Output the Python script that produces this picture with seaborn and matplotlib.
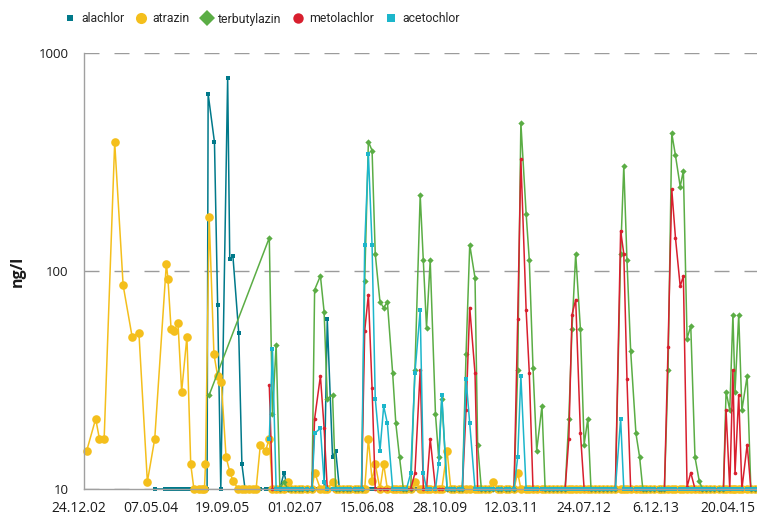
import matplotlib

matplotlib.use("Agg")

import matplotlib.pyplot as plt
import matplotlib.transforms as mtransforms
import numpy as np
import pandas as pd
import seaborn as sns
from matplotlib.lines import Line2D
from matplotlib.ticker import FixedLocator, NullLocator

nan = np.nan

# sampling times as decimal years, values in ng/l (10 = detection limit)
early_atrazin_t = [2003.03, 2003.20, 2003.27, 2003.36, 2003.56, 2003.72, 2003.89, 2004.02,
                   2004.18, 2004.32, 2004.54, 2004.57, 2004.63, 2004.69, 2004.76, 2004.83,
                   2004.93, 2005.00, 2005.06, 2005.15, 2005.22, 2005.26, 2005.28, 2005.35,
                   2005.44, 2005.51, 2005.58, 2005.67, 2005.74, 2005.80, 2005.90, 2005.97]
early_atrazin_v = [15, 21, 17, 17, 390, 86, 50, 52,
                   10.8, 17, 108, 92, 54, 53, 58, 28,
                   50, 13, 10, 10, 10, 10, 13, 176,
                   41.5, 33, 31, 14, 12, 10.9, 10, 10]

early_alachlor_t = [2004.32, 2004.51, 2004.56, 2004.61, 2004.65, 2004.70, 2004.75, 2004.80,
                    2004.84, 2004.89, 2004.94, 2004.98, 2005.03, 2005.08, 2005.13, 2005.17,
                    2005.22, 2005.27, 2005.31, 2005.33, 2005.45, 2005.51, 2005.57, 2005.70,
                    2005.74, 2005.80, 2005.91, 2005.97]
early_alachlor_v = [10, 10, 10, 10, 10, 10, 10, 10,
                    10, 10, 10, 10, 10, 10, 10, 10,
                    10, 10, 10, 650, 390, 70, 10, 770,
                    113, 117, 52, 13]

early_terbutylazin_t = [2005.35]
early_terbutylazin_v = [27]

# common sampling from 2006 on
sample_t = [
    2006.03, 2006.10, 2006.18, 2006.24, 2006.32, 2006.42, 2006.49, 2006.55, 2006.62, 2006.69, 2006.77, 2006.84, 2006.91,
    2006.97, 2007.05, 2007.12, 2007.20,
    2007.30, 2007.35, 2007.46, 2007.53, 2007.59, 2007.69, 2007.75, 2007.82,
    2007.88, 2007.96, 2008.03, 2008.11, 2008.18, 2008.24,
    2008.30, 2008.37, 2008.44, 2008.50, 2008.59, 2008.66, 2008.73, 2008.83, 2008.89, 2008.96, 2009.03,
    2009.09,
    2009.17, 2009.25, 2009.35, 2009.41, 2009.47, 2009.54, 2009.64, 2009.70, 2009.76, 2009.86, 2009.93,
    2010.00, 2010.08,
    2010.15, 2010.22, 2010.29, 2010.39, 2010.44, 2010.51,
    2010.58, 2010.66, 2010.74, 2010.82, 2010.89, 2010.97, 2011.04,
    2011.13, 2011.20, 2011.26, 2011.36, 2011.42, 2011.49, 2011.56, 2011.66, 2011.72,
    2011.79, 2011.87, 2011.94, 2012.02,
    2012.10, 2012.17, 2012.23, 2012.30, 2012.39, 2012.46, 2012.53, 2012.59,
    2012.66, 2012.74, 2012.81, 2012.89, 2012.97,
    2013.05, 2013.15, 2013.21, 2013.27, 2013.34, 2013.44, 2013.51, 2013.57,
    2013.64, 2013.71, 2013.79, 2013.87, 2013.92,
    2013.98, 2014.05, 2014.12, 2014.19, 2014.28, 2014.34, 2014.41, 2014.48, 2014.56, 2014.64, 2014.70,
    2014.77, 2014.85, 2014.93, 2015.01,
    2015.10, 2015.15, 2015.22, 2015.28, 2015.32, 2015.39, 2015.45, 2015.55, 2015.62, 2015.69,
]

alachlor_v = [
    10, 10, 10, 10, 10, 10, 10, 10, 10, 10, 11.9, 10, 10,
    10, 10, 10, 10,
    10, 10, 10, 10, 60, 14, 15, 10,
    10, 10, 10, 10, 10, 10,
    10, 10, 10, 10, 10, 10, 10, 10, 10, 10, 10,
    10,
    10, 10, 10, 10, 10, 10, 10, 10, 10, 10, 10,
    10, 10,
    10, 10, 10, 10, 10, 10,
    10, 10, 10, 10, 10, 10, 10,
    10, 10, 10, 10, 10, 10, 10, 10, 10,
    10, 10, 10, 10,
    10, 10, 10, 10, 10, 10, 10, 10,
    10, 10, 10, 10, 10,
    10, 10, 10, 10, 10, 10, 10, 10,
    10, 10, 10, 10, 10,
    10, 10, 10, 10, 10, 10, 10, 10, 10, 10, 10,
    10, 10, 10, 10,
    10, 10, 10, 10, 10, 10, 10, 10, 10, 10,
]

atrazin_v = [
    10, 10, 10, 10, 15.9, 15, 17, 10, 10, 10, 10, 10.8, 10,
    10, 10, 10, 10,
    10, 11.9, 10, 10, 10, 10.8, 10, 10,
    10, 10, 10, 10, 10, 10,
    10, 17, 10.9, 13, 10, 13, 10, 10, 10, 10, 10,
    10,
    10, 10.8, 10, 10, 10, 10, 10, 10, 10, 15, 10,
    10, 10,
    10, 10, 10, 10, 10, 10,
    10, 10, 10.8, 10, 10, 10, 10,
    10, 11.9, 10, 10, 10, 10, 10, 10, 10,
    10, 10, 10, 10,
    10, 10, 10, 10, 10, 10, 10, 10,
    10, 10, 10, 10, 10,
    10, 10, 10, 10, 10, 10, 10, 10,
    10, 10, 10, 10, 10,
    10, 10, 10, 10, 10, 10, 10, 10, 10, 10, 10,
    10, 10, 10, 10,
    10, 10, 10, 10, 10, 10, 10, 10, 10, 10,
]

terbutylazin_v = [
    nan, nan, nan, nan, nan, nan, 142, 22, 46, 10, 10.8, 10, 10,
    10, 10, 10, 10,
    10, 82, 95, 65, 26, 27, 10, 10,
    10, 10, 10, 10, 10, 10,
    90, 392, 357, 120, 72, 68, 72, 34, 20, 14, 10,
    10,
    10, 35, 223, 112, 55, 112, 22, 14, 26, 10, 10,
    10, 10,
    10, 41.5, 132, 93, 16, 10,
    10, 10, 10, 10, 10, 10, 10,
    10, 35, 479, 183, 112, 36, 15, 24, 10,
    10, 10, 10, 10,
    10, 21, 54, 120, 54, 16, 21, 10,
    10, 10, 10, 10, 10,
    10, 120, 304, 112, 43, 18, 14, 10,
    10, 10, 10, 10, 10,
    10, 35, 428, 339, 244, 289, 49, 56, 14, 10.9, 10,
    10, 10, 10, 10,
    10, 28, 23, 63, 28, 63, 23, 33, 10, 10,
]

metolachlor_v = [
    nan, nan, nan, nan, nan, nan, 30, 10, 10, 10, 10, 10, 10,
    10, 10, 10, 10,
    10, 21, 33, 19, 10, 10, 10, 10,
    10, 10, 10, 10, 10, 10,
    53, 78, 29, 10, 10, 10, 10, 10, 10, 10, 10,
    10,
    10, 11.8, 35, 10, 10, 17, 10, 10, 10, 10, 10,
    10, 10,
    10, 23, 68, 34, 10, 10,
    10, 10, 10, 10, 10, 10, 10,
    10, 60, 327, 66, 34, 10, 10, 10, 10,
    10, 10, 10, 10,
    10, 17, 63, 74, 18, 10, 10, 10,
    10, 10, 10, 10, 10,
    10, 153, 120, 32, 10, 10, 10, 10,
    10, 10, 10, 10, 10,
    10, 45, 237, 142, 85, 95, 10.2, 11.9, 10, 10, 10,
    10, 10, 10, 10,
    10, 23, 10, 35, 11.8, 27, 10, 16, 10, 10,
]

acetochlor_v = [
    nan, nan, nan, nan, nan, nan, 17, 44, 10, 10, 10, 10, 10,
    10, 10, 10, 10,
    10, 18, 19, 10.8, 10, 10, 10, 10,
    10, 10, 10, 10, 10, 10,
    131, 344, 131, 26, 15, 24, 20, 10, 10, 10, 10,
    10,
    11.8, 34, 66, 11.8, 10, 10, 10, 13, 27, 10, 10,
    10, 10,
    10, 32, 20, 10, 10, 10,
    10, 10, 10, 10, 10, 10, 10,
    10, 14, 33, 10, 10, 10, 10, 10, 10,
    10, 10, 10, 10,
    10, 10, 10, 10, 10, 10, 10, 10,
    10, 10, 10, 10, 10,
    10, 21, 10, 10, 10, 10, 10, 10,
    10, 10, 10, 10, 10,
    10, 10, 10, 10, 10, 10, 10, 10, 10, 10, 10,
    10, 10, 10, 10,
    10, 10, 10, 10, 10, 10, 10, 10, 10, 10,
]

tick_labels = ["24.12.02", "07.05.04", "19.09.05", "01.02.07", "15.06.08",
               "28.10.09", "12.03.11", "24.07.12", "6.12.13", "20.04.15"]

substances = ["alachlor", "atrazin", "terbutylazin", "metolachlor", "acetochlor"]
colors = {"alachlor": "#00798a", "atrazin": "#f4bf1c", "terbutylazin": "#5bad45",
          "metolachlor": "#d81f2e", "acetochlor": "#1cb6cb"}
plot_style = {  # marker, markersize on the chart, markersize in legend
    "alachlor": ("s", 3.0, 5.0),
    "atrazin": ("o", 6.2, 8.0),
    "terbutylazin": ("D", 3.2, 8.5),
    "metolachlor": ("o", 2.6, 7.5),
    "acetochlor": ("s", 3.2, 5.5),
}


def to_dates(years):
    out = []
    for y in years:
        year = int(y)
        out.append(pd.Timestamp(year=year, month=1, day=1) + pd.Timedelta(days=(y - year) * 365.25))
    return out


series = {
    "alachlor": (early_alachlor_t + sample_t, early_alachlor_v + alachlor_v),
    "atrazin": (early_atrazin_t + sample_t, early_atrazin_v + atrazin_v),
    "terbutylazin": (early_terbutylazin_t + sample_t, early_terbutylazin_v + terbutylazin_v),
    "metolachlor": (sample_t, metolachlor_v),
    "acetochlor": (sample_t, acetochlor_v),
}
frames = [pd.DataFrame({"date": to_dates(t), "ng/l": v, "substance": name})
          for name, (t, v) in series.items()]
df = pd.concat(frames, ignore_index=True).dropna()

sns.set_style("white")
plt.rcParams["font.family"] = ["Open Sans", "DejaVu Sans"]

fig = plt.figure(figsize=(7.57, 5.15), dpi=100)
ax = fig.add_axes([84 / 757, 26 / 515, 673 / 757, 436 / 515])

for name in substances:
    marker, ms, _ = plot_style[name]
    sns.lineplot(data=df[df["substance"] == name], x="date", y="ng/l", ax=ax,
                 color=colors[name], marker=marker, markersize=ms,
                 markeredgewidth=0, linewidth=1.1, estimator=None,
                 clip_on=False, legend=False)

ax.set_yscale("log")
ax.set_ylim(10, 1000)
ax.set_xlim(pd.Timestamp("2002-12-24"), pd.Timestamp("2015-09-27"))
ax.yaxis.set_major_locator(FixedLocator([10, 100, 1000]))
ax.yaxis.set_minor_locator(NullLocator())
ax.set_yticklabels(["10", "100", "1000"])
tick_dates = pd.to_datetime(tick_labels, format="%d.%m.%y")
ax.set_xticks(tick_dates)
ax.set_xticklabels(tick_labels)
ax.xaxis.set_minor_locator(NullLocator())

ax.yaxis.grid(True, linestyle=(0, (10.8, 10.8)), color="#9b9b9b", linewidth=1.0)
ax.set_axisbelow(True)
for side in ["top", "right"]:
    ax.spines[side].set_visible(False)
for side in ["left", "bottom"]:
    ax.spines[side].set_color("#a0a0a0")
    ax.spines[side].set_linewidth(1.0)
ax.tick_params(axis="both", colors="#a0a0a0", labelcolor="#1a1a1a", length=5, width=1.0)
ax.tick_params(axis="x", labelsize=10, pad=4)
ax.tick_params(axis="y", labelsize=9.5, pad=6)
# date labels sit slightly left of their tick marks
shift = mtransforms.ScaledTranslation(-4 / 72, 0, fig.dpi_scale_trans)
for lab in ax.get_xticklabels():
    lab.set_transform(lab.get_transform() + shift)
ax.set_xlabel("")
ax.set_ylabel("ng/l", fontsize=11.5, fontweight="bold", color="#1a1a1a", labelpad=9)

handles = [Line2D([], [], linestyle="None", marker=plot_style[n][0], markersize=plot_style[n][2],
                  markerfacecolor=colors[n], markeredgewidth=0) for n in substances]
fig.legend(handles, substances, loc="center left", bbox_to_anchor=(53 / 757, 1 - 19 / 515),
           ncol=5, frameon=False, handlelength=1.0, handletextpad=0.4, columnspacing=0.9,
           prop={"family": ["Roboto", "DejaVu Sans"], "size": 8.8})

fig.savefig("out.png", dpi=100)
